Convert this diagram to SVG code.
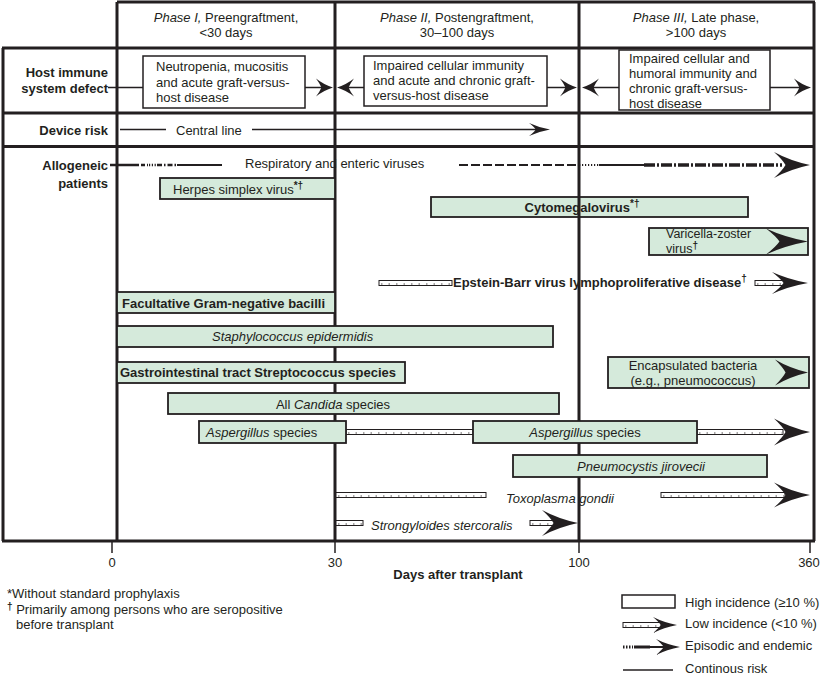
<svg xmlns="http://www.w3.org/2000/svg" xmlns:xlink="http://www.w3.org/1999/xlink" width="822" height="678" viewBox="0 0 822 678">
<style>
text{font-family:"Liberation Sans",Arial,sans-serif;font-size:13px;fill:#231f20}
.b{font-weight:bold}
.i{font-style:italic}
.m{text-anchor:middle}
.e{text-anchor:end}
.sup{font-size:10px;font-weight:bold}
.sm{font-size:12.5px}
.frame{stroke:#231f20;stroke-width:3;fill:none}
.wbox{fill:#fff;stroke:#231f20;stroke-width:1.5}
.gbox{fill:#d5eadb;stroke:#231f20;stroke-width:1.8}
.ln{stroke:#231f20;stroke-width:1.5;fill:none}
.low{fill:#fff;stroke:#231f20;stroke-width:1}
.hatch{stroke:#231f20;stroke-width:0.8;stroke-dasharray:1.5 6;fill:none}
.ah{fill:#231f20}
</style>
<defs>
<path id="ah" d="M0,0 Q-0.55,-0.16 -1,-0.5 Q-0.76,-0.2 -0.68,0 Q-0.76,0.2 -1,0.5 Q-0.55,0.16 0,0 Z"/>
</defs>
<rect width="822" height="678" fill="#fff"/>

<g id="frame">
<line class="frame" x1="117" y1="2" x2="815" y2="2"/>
<line class="frame" x1="2" y1="48" x2="815" y2="48"/>
<line class="frame" x1="2" y1="113" x2="815" y2="113"/>
<line class="frame" x1="2" y1="146.5" x2="815" y2="146.5"/>
<line class="frame" x1="2" y1="541" x2="815" y2="541"/>
<line class="frame" x1="3" y1="48" x2="3" y2="541"/>
<line class="frame" x1="117" y1="2" x2="117" y2="541"/>
<line class="frame" x1="335" y1="2" x2="335" y2="541"/>
<line class="frame" x1="579" y1="2" x2="579" y2="541"/>
<line class="frame" x1="814" y1="2" x2="814" y2="541"/>
</g>

<g id="headers">
<text class="m" x="226" y="22"><tspan class="i">Phase I,</tspan> Preengraftment,</text>
<text class="m" x="226" y="37">&lt;30 days</text>
<text class="m" x="457" y="22"><tspan class="i">Phase II,</tspan> Postengraftment,</text>
<text class="m" x="457" y="37">30–100 days</text>
<text class="m" x="696" y="22"><tspan class="i">Phase III,</tspan> Late phase,</text>
<text class="m" x="696" y="37">&gt;100 days</text>
</g>

<g id="row-labels">
<text class="b e" x="108" y="77">Host immune</text>
<text class="b e" x="108" y="93">system defect</text>
<text class="b e" x="108" y="135">Device risk</text>
<text class="b e" x="108" y="170">Allogeneic</text>
<text class="b e" x="108" y="188">patients</text>
</g>

<g id="connectors">
<line class="ln" x1="108" y1="87.5" x2="143" y2="87.5"/>
<line class="ln" x1="305" y1="87.5" x2="325" y2="87.5"/>
<use href="#ah" class="ah" transform="translate(333,87.5) scale(17,18)"/>
<use href="#ah" class="ah" transform="translate(337,87.5) scale(-17,18)"/>
<line class="ln" x1="345" y1="87.5" x2="364" y2="87.5"/>
<line class="ln" x1="547" y1="87.5" x2="570" y2="87.5"/>
<use href="#ah" class="ah" transform="translate(577,87.5) scale(17,18)"/>
<use href="#ah" class="ah" transform="translate(582,87.5) scale(-17,18)"/>
<line class="ln" x1="590" y1="87.5" x2="619" y2="87.5"/>
<line class="ln" x1="770" y1="87.5" x2="800" y2="87.5"/>
<use href="#ah" class="ah" transform="translate(811,87.5) scale(17,18)"/>
<line class="ln" x1="120" y1="129.5" x2="166" y2="129.5"/>
<line class="ln" x1="252" y1="129.5" x2="540" y2="129.5"/>
<use href="#ah" class="ah" transform="translate(550,129.5) scale(21,13)"/>
<line x1="110" y1="165" x2="135" y2="165" stroke="#231f20" stroke-width="2.5"/>
<line x1="135" y1="165" x2="148" y2="165" stroke="#231f20" stroke-width="2.5" stroke-dasharray="4 2"/>
<line x1="149" y1="165" x2="157" y2="165" stroke="#231f20" stroke-width="2.5" stroke-dasharray="1.2 1.6"/>
<line x1="157" y1="165" x2="177" y2="165" stroke="#231f20" stroke-width="2.5" stroke-dasharray="5 2 1.5 2"/>
<line x1="177" y1="165" x2="222" y2="165" stroke="#231f20" stroke-width="2"/>
<line x1="459" y1="165" x2="579" y2="165" stroke="#231f20" stroke-width="1.8" stroke-dasharray="9 3"/>
<line x1="579" y1="165" x2="599" y2="165" stroke="#231f20" stroke-width="1.8" stroke-dasharray="1.2 1.8"/>
<line x1="599" y1="165" x2="644" y2="165" stroke="#231f20" stroke-width="1.8"/>
<line x1="644" y1="165" x2="782" y2="165" stroke="#231f20" stroke-width="3.5" stroke-dasharray="11 2 2 2"/>
<use href="#ah" class="ah" transform="translate(810,165) scale(36,26)"/>
<rect class="low" x="379" y="280.5" width="73" height="5"/>
<line class="hatch" x1="381" y1="284" x2="451" y2="284"/>
<rect class="low" x="755" y="280.5" width="32" height="5"/>
<line class="hatch" x1="757" y1="284" x2="786" y2="284"/>
<use href="#ah" class="ah" transform="translate(808,283) scale(36,22)"/>
<rect class="low" x="346" y="429.5" width="127" height="5"/>
<line class="hatch" x1="348" y1="433" x2="472" y2="433"/>
<rect class="low" x="697" y="429.5" width="86" height="5"/>
<line class="hatch" x1="699" y1="433" x2="782" y2="433"/>
<use href="#ah" class="ah" transform="translate(810,432) scale(36,27)"/>
<rect class="low" x="336" y="492.5" width="150" height="5"/>
<line class="hatch" x1="338" y1="496" x2="485" y2="496"/>
<rect class="low" x="661" y="492.5" width="124" height="5"/>
<line class="hatch" x1="663" y1="496" x2="784" y2="496"/>
<use href="#ah" class="ah" transform="translate(810,495) scale(36,25)"/>
<rect class="low" x="336" y="520.5" width="27" height="5"/>
<line class="hatch" x1="338" y1="524" x2="362" y2="524"/>
<rect class="low" x="530" y="520.5" width="30" height="5"/>
<line class="hatch" x1="532" y1="524" x2="559" y2="524"/>
<use href="#ah" class="ah" transform="translate(578,523) scale(36,26)"/>
</g>

<g id="host-phase1">
<rect class="wbox" x="143" y="56" width="162" height="52"/>
<text x="156" y="71">Neutropenia, mucositis</text>
<text x="156" y="86.5">and acute graft-versus-</text>
<text x="156" y="102">host disease</text>
</g>
<g id="host-phase2">
<rect class="wbox" x="364" y="56" width="183" height="50"/>
<text x="373" y="70">Impaired cellular immunity</text>
<text x="373" y="85">and acute and chronic graft-</text>
<text x="373" y="100">versus-host disease</text>
</g>
<g id="host-phase3">
<rect class="wbox" x="619" y="50" width="151" height="60"/>
<text x="629" y="63">Impaired cellular and</text>
<text x="629" y="78">humoral immunity and</text>
<text x="629" y="93">chronic graft-versus-</text>
<text x="629" y="108">host disease</text>
</g>
<g id="central-line">
<text x="176" y="134.5">Central line</text>
</g>
<g id="respiratory">
<text x="245" y="168">Respiratory and enteric viruses</text>
</g>
<g id="herpes">
<rect class="gbox" x="160" y="178" width="175" height="21"/>
<text x="173" y="194">Herpes simplex virus<tspan class="sup" dy="-5">*†</tspan></text>
</g>
<g id="cmv">
<rect class="gbox" x="431" y="197" width="317" height="20"/>
<line class="frame" x1="579" y1="197" x2="579" y2="217"/>
<text class="b m" x="582" y="212">Cytomegalovirus<tspan class="sup" dy="-5">*†</tspan></text>
</g>
<g id="vzv">
<rect class="gbox" x="649" y="228" width="159" height="27"/>
<use href="#ah" class="ah" transform="translate(808,241.5) scale(42,26)"/>
<text class="sm" x="666" y="238">Varicella-zoster</text>
<text class="sm" x="666" y="253">virus<tspan class="sup" dy="-4">†</tspan></text>
</g>
<g id="ebv">
<text class="b" x="453" y="287">Epstein-Barr virus lymphoproliferative disease<tspan class="sup" dy="-5">†</tspan></text>
</g>
<g id="gram-neg">
<rect class="gbox" x="117" y="292" width="218" height="21"/>
<text class="b" x="122" y="308">Facultative Gram-negative bacilli</text>
</g>
<g id="staph">
<rect class="gbox" x="117" y="326" width="436" height="21"/>
<text class="i" x="212" y="341">Staphylococcus epidermidis</text>
</g>
<g id="encapsulated">
<rect class="gbox" x="608" y="357" width="201" height="31"/>
<use href="#ah" class="ah" transform="translate(808,372.5) scale(33,26)"/>
<text class="m" x="693" y="369.5">Encapsulated bacteria</text>
<text class="m" x="693" y="384.5">(e.g., pneumococcus)</text>
</g>
<g id="gi-strep">
<rect class="gbox" x="117" y="362" width="288" height="21"/>
<text class="b" x="120" y="377">Gastrointestinal tract Streptococcus species</text>
</g>
<g id="candida">
<rect class="gbox" x="168" y="393" width="391" height="21"/>
<text class="m" x="333" y="409">All <tspan class="i">Candida</tspan> species</text>
</g>
<g id="aspergillus-1">
<rect class="gbox" x="199" y="421" width="147" height="22"/>
<text x="206" y="437"><tspan class="i">Aspergillus</tspan> species</text>
</g>
<g id="aspergillus-2">
<rect class="gbox" x="473" y="421" width="224" height="22"/>
<text class="m" x="585" y="437"><tspan class="i">Aspergillus</tspan> species</text>
</g>
<g id="pneumocystis">
<rect class="gbox" x="513" y="455" width="254" height="22"/>
<text class="i m" x="641" y="471">Pneumocystis jirovecii</text>
</g>
<g id="toxoplasma">
<text class="i" x="506" y="503">Toxoplasma gondii</text>
</g>
<g id="strongyloides">
<text class="i" x="371" y="530">Strongyloides stercoralis</text>
</g>

<g id="axis">
<line class="ln" x1="112" y1="541" x2="112" y2="553"/>
<line class="ln" x1="335" y1="541" x2="335" y2="553"/>
<line class="ln" x1="579" y1="541" x2="579" y2="553"/>
<line class="ln" x1="810" y1="541" x2="810" y2="553"/>
<text class="m" x="112" y="567">0</text>
<text class="m" x="335" y="567">30</text>
<text class="m" x="579" y="567">100</text>
<text class="m" x="809" y="567">360</text>
<text class="b m" x="458" y="579">Days after transplant</text>
</g>

<g id="footnotes">
<text x="7" y="598">*Without standard prophylaxis</text>
<text x="7" y="614"><tspan class="sup" dy="-4">†</tspan><tspan dy="4"> Primarily among persons who are seropositive</tspan></text>
<text x="16" y="629">before transplant</text>
</g>

<g id="legend">
<rect class="wbox" x="622" y="595" width="53" height="13"/>
<text x="685" y="607">High incidence (≥10 %)</text>
<rect class="low" x="623" y="622.5" width="40" height="5"/>
<line class="hatch" x1="625" y1="626" x2="662" y2="626"/>
<use href="#ah" class="ah" transform="translate(677,625) scale(24,16)"/>
<text x="685" y="628">Low incidence (&lt;10 %)</text>
<line x1="623" y1="647" x2="633" y2="647" stroke="#231f20" stroke-width="3" stroke-dasharray="1.5 1.5"/>
<line x1="634" y1="647" x2="650" y2="647" stroke="#231f20" stroke-width="3"/>
<line x1="650" y1="647" x2="670" y2="647" stroke="#231f20" stroke-width="2"/>
<use href="#ah" class="ah" transform="translate(680,647) scale(24,16)"/>
<text x="685" y="650">Episodic and endemic</text>
<line class="ln" x1="623" y1="670" x2="673" y2="670"/>
<text x="685" y="673">Continous risk</text>
</g>
</svg>
